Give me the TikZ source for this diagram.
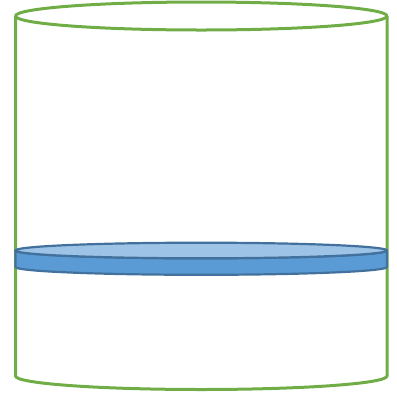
\documentclass[tikz,border=0pt]{standalone}
\definecolor{cylgreen}{HTML}{70AD47}
\definecolor{diskblue}{HTML}{5B9BD5}
\definecolor{disktop}{HTML}{9DC3E6}
\definecolor{diskline}{HTML}{41719C}
\tikzset{
  cylline/.style={draw=cylgreen, line width=3pt, line join=round},
  diskline/.style={draw=diskline, line width=2.2pt, line join=round}
}
\begin{document}
\begin{tikzpicture}[x=1pt,y=-1pt]
\useasboundingbox (0,0) rectangle (397,392);
% cylinder
\draw[cylline] (15.5,16) -- (15.5,376) arc[start angle=180, end angle=0, x radius=185.75, y radius=13.5] -- (387,16);
\draw[cylline] (201.25,16) ellipse[x radius=185.75, y radius=14];
% disk
\path[fill=diskblue, diskline] (15.5,250.5) -- (15.5,267) arc[start angle=180, end angle=0, x radius=185.75, y radius=7.8] -- (387,250.5) arc[start angle=0, end angle=180, x radius=185.75, y radius=7.8] -- cycle;
\path[fill=disktop, diskline] (201.25,250.5) ellipse[x radius=185.75, y radius=7.8];
\end{tikzpicture}
\end{document}
